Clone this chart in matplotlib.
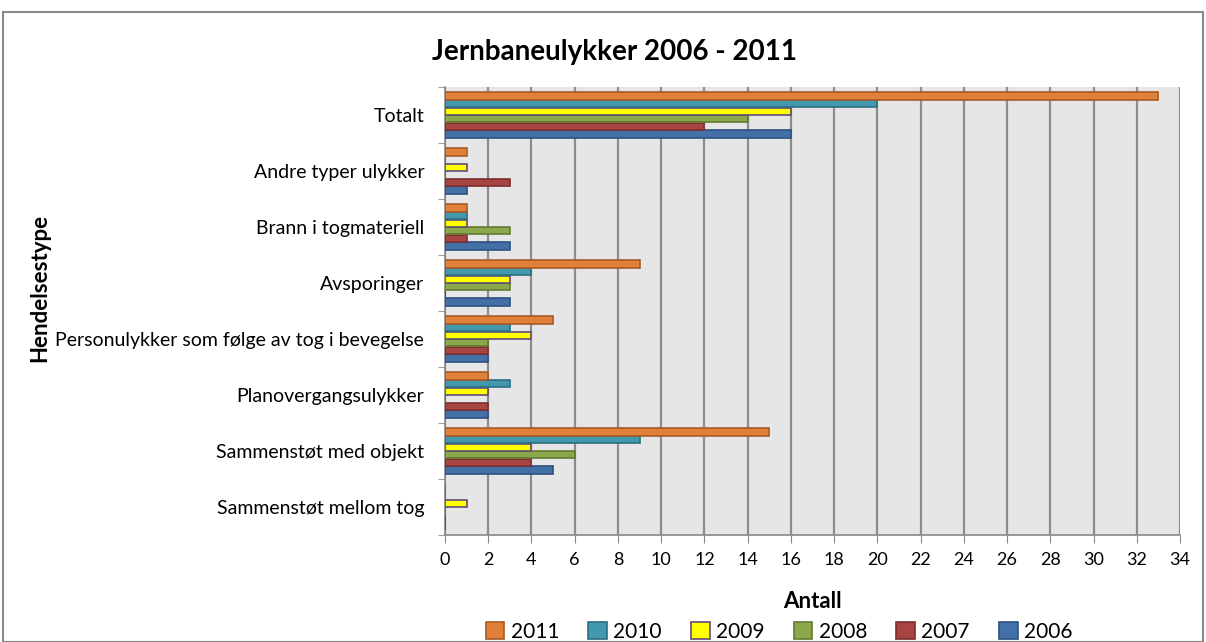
import matplotlib
matplotlib.use("Agg")
import matplotlib.pyplot as plt
from matplotlib.patches import Rectangle, Patch
import numpy as np

plt.rcParams['font.family'] = ['Lato', 'DejaVu Sans']

# categories from bottom to top (Excel order)
categories = ["Sammenstøt mellom tog", "Sammenstøt med objekt", "Planovergangsulykker",
              "Personulykker som følge av tog i bevegelse", "Avsporinger",
              "Brann i togmateriell", "Andre typer ulykker", "Totalt"]
years = ["2006", "2007", "2008", "2009", "2010", "2011"]
v2006 = [0, 5, 2, 2, 3, 3, 1, 16]
v2007 = [0, 4, 2, 2, 0, 1, 3, 12]
v2008 = [0, 6, 0, 2, 3, 3, 0, 14]
v2009 = [1, 4, 2, 4, 3, 1, 1, 16]
v2010 = [0, 9, 3, 3, 4, 1, 0, 20]
v2011 = [0, 15, 2, 5, 9, 1, 1, 33]
series = [v2006, v2007, v2008, v2009, v2010, v2011]
faces = ["#4470A8", "#A84442", "#8BA84A", "#FFFF00", "#4198AF", "#E0803A"]
edges = ["#2D5180", "#7D2F2E", "#657A35", "#604A7B", "#2C6E80", "#A65B22"]

fig = plt.figure(figsize=(12.06, 6.42), dpi=100)
ax = fig.add_axes([445/1206, 1-535/642, (1180-445)/1206, (535-87)/642])
ax.set_facecolor("#E6E6E6")

y = np.arange(len(categories))
h = 0.82 / 6
for i, vals in enumerate(series):
    off = (i - 2.5) * h
    ax.barh(y + off, vals, height=h * 0.95, color=faces[i], edgecolor=edges[i],
            linewidth=1.2, zorder=3)

ax.set_xlim(0, 34)
ax.set_ylim(-0.5, len(categories) - 0.5)
ax.set_xticks(range(0, 35, 2))
ax.set_yticks(y)
ax.set_yticklabels(categories, fontsize=14)
ax.set_yticks(np.arange(-0.5, len(categories), 1), minor=True)
ax.tick_params(axis='y', which='major', length=0, pad=15)
ax.tick_params(axis='y', which='minor', length=5, color="#888888", direction='out')
ax.tick_params(axis='x', labelsize=13, length=6, color="#888888", direction='out', pad=6)
ax.grid(axis='x', color="#8C8C8C", linewidth=1.6, zorder=0)
for s in ["top", "right"]:
    ax.spines[s].set_visible(False)
for s in ["left", "bottom"]:
    ax.spines[s].set_color("#888888")
    ax.spines[s].set_linewidth(1.2)

ax.set_xlabel("Antall", fontsize=16, fontweight='bold', labelpad=17)
fig.text(40/1206, 1-288/642, "Hendelsestype", rotation=90, fontsize=16,
         fontweight='bold', ha='center', va='center')
fig.text(614/1206, 1-52/642, "Jernbaneulykker 2006 - 2011", fontsize=20,
         fontweight='bold', ha='center', va='center')

handles = [Patch(facecolor=faces[i], edgecolor=edges[i], linewidth=1.2, label=years[i])
           for i in range(5, -1, -1)]
fig.legend(handles=handles, loc='center', bbox_to_anchor=(779/1206, 1-632/642),
           ncol=6, frameon=False, fontsize=15, handlelength=0.9, handleheight=0.9,
           handletextpad=0.3, columnspacing=1.4)

fig.patches.append(Rectangle((3/1206, 0), 1200/1206, 1-12/642, transform=fig.transFigure,
                             fill=False, edgecolor="#888888", linewidth=1.5))

fig.savefig("out.png", dpi=100)
